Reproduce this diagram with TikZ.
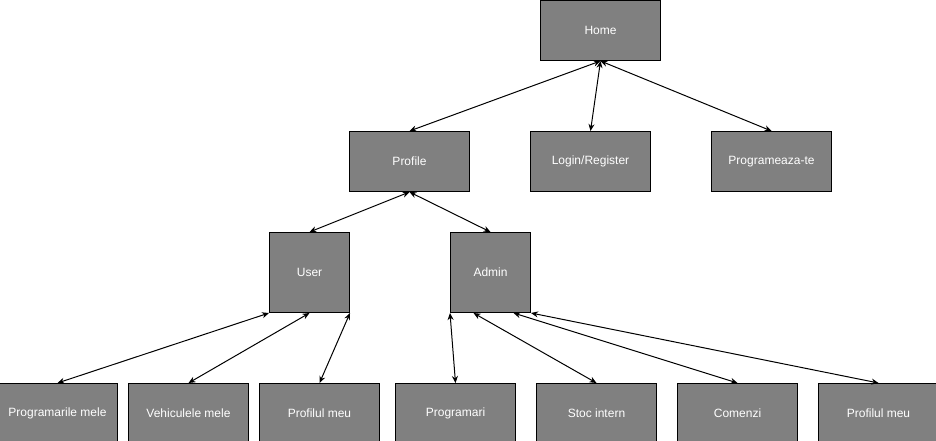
\documentclass[tikz,border=0pt]{standalone}
\usepackage{fontspec}
\setmainfont{Liberation Sans}
\usepackage{tikz}
\usetikzlibrary{positioning,arrows.meta}
\definecolor{boxgray}{HTML}{808080}

\begin{document}
\begin{tikzpicture}[x=1pt, y=-1pt, line width=1pt,
	page node/.style={rectangle,draw,fill=boxgray,text=white,inner sep=0pt,
		minimum width=120pt,minimum height=60pt,font=\fontsize{12}{14}\selectfont},
	role node/.style={page node,minimum width=80pt,minimum height=80pt},
	link/.style={{Stealth[length=7pt,width=6pt]}-{Stealth[length=7pt,width=6pt]}}]
	
	\useasboundingbox (-0.5,-0.5) rectangle (935.5,440.5);
	
	\node[page node] (home) at (600,30) {Home};
	\node[page node] (login) [below=70pt of home, xshift=-10pt] {Login/Register};
	\node[page node] (profile) [left=60pt of login] {Profile};
	\node[page node] (programeaza) [right=60pt of login] {Programeaza-te};
	
	\node[role node] (user) [below=40pt of profile, xshift=-100pt] {User};
	\node[role node] (admin) [right=100pt of user] {Admin};
	
	\node[page node] (programari) [below=70pt of admin, xshift=-35pt] {Programari};
	\node[page node] (umeu) [left=15pt of programari] {Profilul meu};
	\node[page node] (vehicule) [left=10pt of umeu] {Vehiculele mele};
	\node[page node] (progmele) [left=10pt of vehicule] {Programarile mele};
	\node[page node] (stoc) [right=20pt of programari] {Stoc intern};
	\node[page node] (comenzi) [right=20pt of stoc] {Comenzi};
	\node[page node] (ameu) [right=20pt of comenzi] {Profilul meu};
	
	\path[every edge/.style={draw,link}]
	
	(home.south) edge (profile.north)
	(home.south) edge (login.north)
	(home.south) edge (programeaza.north)
	(profile.south) edge (user.north)
	(profile.south) edge (admin.north)
	(user.south west) edge (progmele.north)
	(user.south) edge (vehicule.north)
	(user.south east) edge (umeu.north)
	(admin.south west) edge (programari.north)
	([xshift=-17pt]admin.south) edge (stoc.north)
	([xshift=23pt]admin.south) edge (comenzi.north)
	(admin.south east) edge (ameu.north);
	
\end{tikzpicture}
\end{document}
